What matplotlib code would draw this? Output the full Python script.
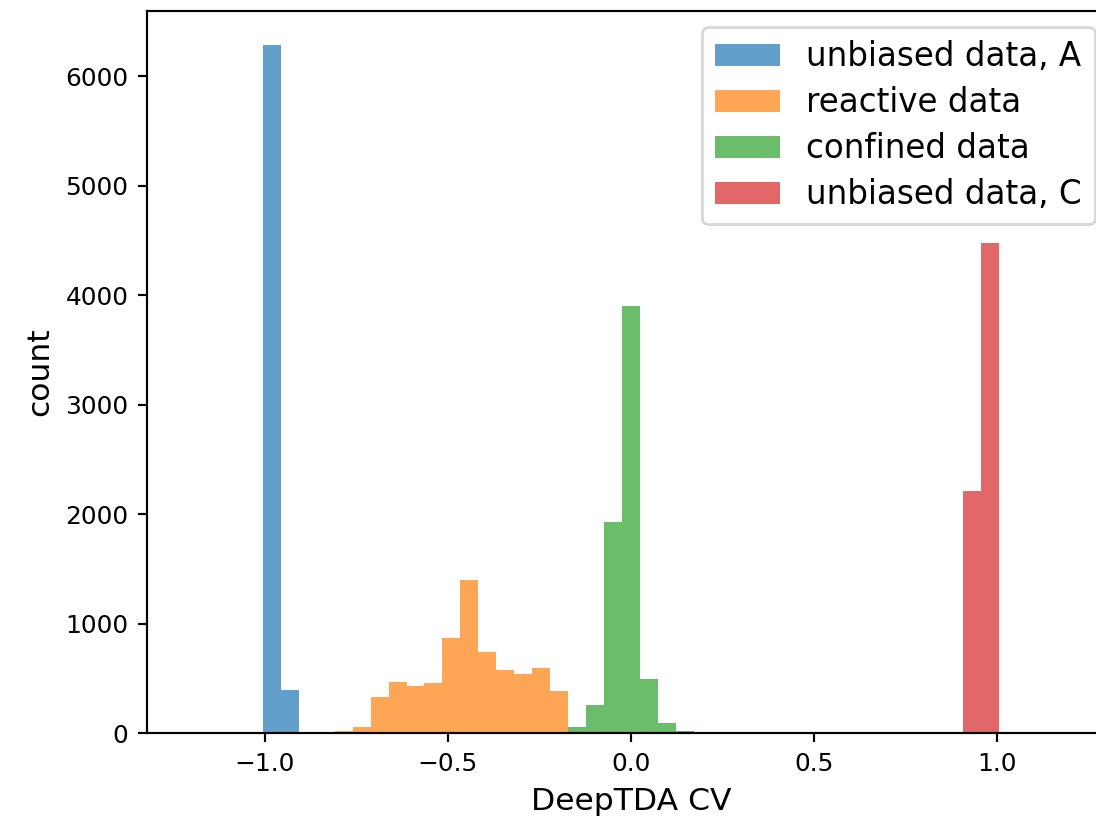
import numpy as np
import matplotlib
matplotlib.use("Agg")
import matplotlib.pyplot as plt

# shared histogram binning
bin_edges = np.linspace(-1.2, 1.2, 50)
bin_centers = 0.5 * (bin_edges[:-1] + bin_edges[1:])

# counts per series, with index of first non-empty bin
labels = ["unbiased data, A", "reactive data", "confined data", "unbiased data, C"]
unbiased_A_start = 4
unbiased_A_counts = [6283, 400]
reactive_start = 8
reactive_counts = [18, 58, 329, 471, 434, 455, 868, 1400, 742, 582, 545, 597, 382]
confined_start = 21
confined_counts = [62, 255, 1929, 3905, 492, 92, 22]
unbiased_C_start = 43
unbiased_C_counts = [2215, 4480]

series = [
    (unbiased_A_start, unbiased_A_counts),
    (reactive_start, reactive_counts),
    (confined_start, confined_counts),
    (unbiased_C_start, unbiased_C_counts),
]

dpi = 195
fig = plt.figure(figsize=(1096 / dpi, 821 / dpi), dpi=dpi)
ax = fig.add_axes([147.3 / 1096, 87.7 / 821, 967 / 1096, 722.3 / 821])

for (start, counts), label in zip(series, labels):
    ax.hist(bin_centers[start:start + len(counts)], bins=bin_edges,
            weights=counts, alpha=0.7, label=label)

ax.set_xlabel("DeepTDA CV", fontsize=11.6)
ax.set_ylabel("count", fontsize=11.6)
ax.tick_params(labelsize=9.2)
ax.legend(fontsize=12, loc="upper right", bbox_to_anchor=(0.9965, 1.0),
          labelspacing=0.4)

fig.savefig("out.png", dpi=dpi)
